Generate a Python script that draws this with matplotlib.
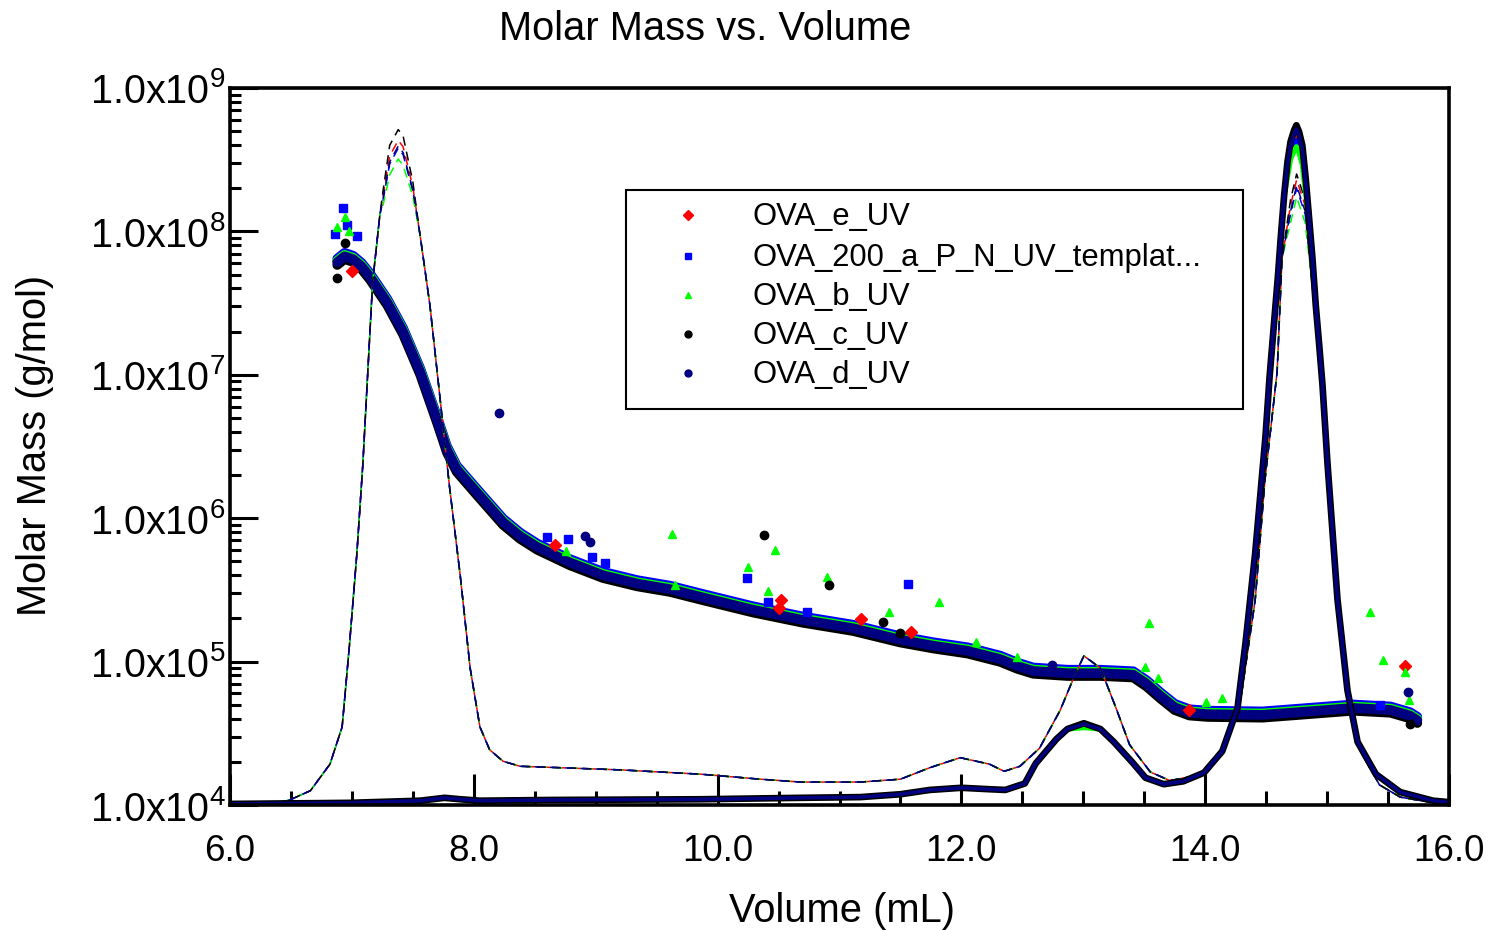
import numpy as np
import matplotlib.pyplot as plt
import matplotlib.patheffects as pe
from matplotlib.patches import Rectangle
from matplotlib.ticker import FixedLocator, FuncFormatter, LogLocator, NullFormatter

plt.rcParams['font.family'] = ['Liberation Sans', 'DejaVu Sans']

run_names = ['OVA_e_UV', 'OVA_200_a_P_N_UV_templat...', 'OVA_b_UV', 'OVA_c_UV', 'OVA_d_UV']
run_colors = ['#ff0000', '#0000ff', '#00ff00', '#000000', '#000080']
run_markers = ['D', 's', '^', 'o', 'o']

# dense molar mass band where all runs overlap (mL, g/mol)
band_volume = [6.88, 6.94, 7.01, 7.08, 7.15, 7.29, 7.42, 7.56, 7.70, 7.78, 7.86, 8.03,
               8.24, 8.38, 8.52, 8.79, 9.06, 9.34, 9.61, 9.88, 10.29, 10.70, 11.11,
               11.50, 11.77, 12.05, 12.32, 12.46, 12.59, 12.87, 13.14, 13.41, 13.52,
               13.63, 13.75, 13.87, 14.02, 14.47, 14.78, 15.21, 15.52, 15.68, 15.74]
band_mass = [6.1e7, 6.7e7, 6.4e7, 5.7e7, 4.8e7, 3.2e7, 2.0e7, 1.05e7, 4.8e6, 3.0e6, 2.2e6,
             1.5e6, 9.4e5, 7.5e5, 6.3e5, 4.9e5, 4.0e5, 3.5e5, 3.2e5, 2.8e5, 2.3e5, 1.95e5,
             1.71e5, 1.42e5, 1.29e5, 1.19e5, 1.04e5, 9.3e4, 8.6e4, 8.3e4, 8.3e4, 8.1e4,
             7.0e4, 5.8e4, 4.8e4, 4.4e4, 4.3e4, 4.25e4, 4.45e4, 4.75e4, 4.6e4, 4.2e4, 3.9e4]

# stray points of each run
e_volume = [7.00, 8.67, 10.52, 10.50, 11.18, 11.59, 13.87, 15.64]
e_mass = [5.3e7, 6.5e5, 2.7e5, 2.37e5, 1.98e5, 1.61e5, 4.6e4, 9.3e4]
a_volume = [6.93, 6.86, 6.96, 7.04, 8.60, 8.77, 8.97, 9.08, 10.24, 10.41, 10.73, 11.56, 15.43]
a_mass = [1.45e8, 9.6e7, 1.1e8, 9.3e7, 7.4e5, 7.2e5, 5.4e5, 4.9e5, 3.8e5, 2.6e5, 2.2e5, 3.5e5, 5.0e4]
b_volume = [6.88, 6.94, 6.98, 8.76, 9.63, 9.65, 10.25, 10.47, 10.41, 10.90, 11.41, 11.82, 12.12,
            12.46, 13.54, 13.51, 13.61, 14.01, 14.14, 15.35, 15.46, 15.64, 15.67]
b_mass = [1.07e8, 1.26e8, 1.0e8, 5.9e5, 7.8e5, 3.4e5, 4.6e5, 6.0e5, 3.1e5, 3.9e5, 2.2e5, 2.6e5,
          1.37e5, 1.08e5, 1.86e5, 9.2e4, 7.7e4, 5.2e4, 5.6e4, 2.2e5, 1.02e5, 8.5e4, 5.4e4]
c_volume = [6.88, 6.94, 10.38, 10.91, 11.36, 11.50, 15.68]
c_mass = [4.7e7, 8.3e7, 7.6e5, 3.4e5, 1.89e5, 1.58e5, 3.7e4]
d_volume = [8.21, 8.91, 8.95, 12.74, 15.66]
d_mass = [5.4e6, 7.5e5, 6.8e5, 9.5e4, 6.1e4]

# light scattering traces (relative signal, shared except the peak tops)
ls_vol_left = [6.0, 6.33, 6.49, 6.66, 6.82, 6.92, 6.98, 7.04, 7.09, 7.13, 7.17, 7.23]
ls_sig_left = [0.0, 0.001, 0.007, 0.020, 0.057, 0.109, 0.223, 0.349, 0.476, 0.603, 0.729, 0.824]
ls_vol_top1 = [7.255, 7.31, 7.38, 7.42, 7.50]
ls_vol_mid = [7.56, 7.64, 7.72, 7.80, 7.89, 7.97, 8.05, 8.13, 8.24, 8.38, 8.71, 9.20, 9.86,
              10.35, 10.68, 11.17, 11.50, 11.74, 11.99, 12.23, 12.35, 12.48, 12.64, 12.81,
              12.93, 13.005, 13.14, 13.26, 13.38, 13.55, 13.71, 13.96, 14.12, 14.29, 14.41,
              14.49, 14.59, 14.63]
ls_sig_mid = [0.794, 0.697, 0.572, 0.445, 0.318, 0.191, 0.109, 0.077, 0.061, 0.054, 0.052,
              0.049, 0.043, 0.036, 0.032, 0.032, 0.036, 0.052, 0.066, 0.057, 0.047, 0.054,
              0.079, 0.132, 0.181, 0.208, 0.191, 0.139, 0.084, 0.046, 0.034, 0.042, 0.070,
              0.146, 0.286, 0.453, 0.604, 0.762]
ls_vol_top2 = [14.70, 14.75, 14.82]
ls_vol_right = [14.88, 14.96, 15.02, 15.11, 15.19, 15.29, 15.43, 15.60, 15.84, 16.0]
ls_sig_right = [0.722, 0.565, 0.411, 0.244, 0.132, 0.070, 0.028, 0.011, 0.004, 0.003]
ls_top1 = {'e': [0.849, 0.905, 0.927, 0.918, 0.862], 'a': [0.843, 0.894, 0.916, 0.907, 0.856],
           'b': [0.836, 0.879, 0.901, 0.892, 0.849], 'c': [0.856, 0.920, 0.942, 0.933, 0.869],
           'd': [0.845, 0.897, 0.919, 0.910, 0.858]}
ls_top2 = {'e': [0.836, 0.872, 0.836], 'a': [0.824, 0.860, 0.824], 'b': [0.812, 0.848, 0.812],
           'c': [0.844, 0.880, 0.844], 'd': [0.828, 0.864, 0.828]}

# UV traces (relative signal)
uv_vol_a = [6.0, 6.98, 7.56, 7.76, 7.89, 8.05, 8.62, 9.86, 10.68, 11.17, 11.50, 11.74, 12.00,
            12.23, 12.36, 12.52, 12.61, 12.78, 12.87]
uv_sig_a = [0.0015, 0.003, 0.006, 0.010, 0.008, 0.006, 0.007, 0.008, 0.010, 0.011, 0.015,
            0.021, 0.024, 0.022, 0.021, 0.030, 0.058, 0.092, 0.106]
uv_vol_top1 = [13.005]
uv_vol_b = [13.14, 13.25, 13.40, 13.51, 13.66, 13.82, 13.99, 14.14, 14.265, 14.33, 14.41,
            14.495, 14.528, 14.569, 14.596, 14.62, 14.648]
uv_sig_b = [0.106, 0.088, 0.060, 0.038, 0.029, 0.033, 0.045, 0.075, 0.135, 0.225, 0.351,
            0.515, 0.597, 0.681, 0.736, 0.792, 0.851]
uv_vol_top2 = [14.675, 14.70, 14.729, 14.748, 14.77, 14.797, 14.825]
uv_vol_c = [14.853, 14.880, 14.907, 14.935, 14.962, 15.003, 15.085, 15.167, 15.25, 15.40,
            15.60, 15.87, 16.0]
uv_sig_c = [0.817, 0.762, 0.697, 0.642, 0.586, 0.477, 0.287, 0.160, 0.088, 0.043, 0.018,
            0.006, 0.004]
uv_top1 = {'e': [0.113], 'a': [0.112], 'b': [0.108], 'c': [0.114], 'd': [0.113]}
uv_top2 = {'e': [0.890, 0.917, 0.932, 0.939, 0.930, 0.911, 0.866],
           'a': [0.883, 0.909, 0.921, 0.927, 0.919, 0.902, 0.860],
           'b': [0.876, 0.901, 0.912, 0.918, 0.910, 0.893, 0.852],
           'c': [0.897, 0.925, 0.941, 0.948, 0.939, 0.920, 0.873],
           'd': [0.893, 0.921, 0.936, 0.943, 0.934, 0.915, 0.869]}

run_keys = ['e', 'a', 'b', 'c', 'd']
stray = {'e': (e_volume, e_mass), 'a': (a_volume, a_mass), 'b': (b_volume, b_mass),
         'c': (c_volume, c_mass), 'd': (d_volume, d_mass)}

fig = plt.figure(figsize=(14.99, 9.30), dpi=100)
ax = fig.add_axes([230 / 1499, 1 - 805 / 930, 1219 / 1499, 717 / 930])
chrom = ax.get_xaxis_transform()  # x in mL, y as fraction of the plot height

ls_volume = ls_vol_left + ls_vol_top1 + ls_vol_mid + ls_vol_top2 + ls_vol_right
uv_volume = uv_vol_a + uv_vol_top1 + uv_vol_b + uv_vol_top2 + uv_vol_c
dash_offsets = [0, 3, 6, 9, 1.5]
band_shift = [(0, 0.5), (0, 2.5), (0, 1), (0, -2), (0, 0)]

for i, k in enumerate(run_keys):
    col = run_colors[i]
    # molar mass band + stray points
    ax.plot(band_volume, band_mass, color=col, lw=7, solid_capstyle='round',
            solid_joinstyle='round', zorder=3 + i * 0.1,
            path_effects=[pe.Stroke(offset=band_shift[i])])
    v, m = stray[k]
    ax.plot(v, m, ls='none', marker=run_markers[i], color=col, mec=col,
            ms=6 if run_markers[i] != '^' else 5.5, zorder=4 + i * 0.1)

for i, k in enumerate(run_keys):
    col = run_colors[i]
    ls_signal = ls_sig_left + ls_top1[k] + ls_sig_mid + ls_top2[k] + ls_sig_right
    ax.plot(ls_volume, ls_signal, color=col, lw=1.1, transform=chrom, zorder=6,
            linestyle=(dash_offsets[i], (6, 4)))

uv_widths = [3.5, 3.5, 3.8, 4.8, 2.6]
for i, k in enumerate(run_keys):
    col = run_colors[i]
    uv_signal = uv_sig_a + uv_top1[k] + uv_sig_b + uv_top2[k] + uv_sig_c
    ax.plot(uv_volume, uv_signal, color=col, lw=uv_widths[i], transform=chrom,
            zorder=7 + i * 0.1, solid_joinstyle='round')

ax.set_yscale('log')
ax.set_xlim(6, 16)
ax.set_ylim(1e4, 1e9)

ax.xaxis.set_major_locator(FixedLocator([6, 8, 10, 12, 14, 16]))
ax.xaxis.set_minor_locator(FixedLocator(np.arange(6, 16.01, 0.5)))
ax.xaxis.set_major_formatter(FuncFormatter(lambda v, p: f'{v:.1f}'))
ax.yaxis.set_major_locator(LogLocator(base=10, numticks=10))
ax.yaxis.set_minor_locator(LogLocator(base=10, subs=np.arange(2, 10), numticks=20))
ax.yaxis.set_minor_formatter(NullFormatter())
ax.yaxis.set_major_formatter(FuncFormatter(
    lambda v, p: r'$\mathregular{1.0x10^{%d}}$' % round(np.log10(v))))

ax.tick_params(which='both', direction='in', top=False, right=False, width=2.2)
ax.tick_params(axis='x', which='major', length=22, labelsize=26.5, pad=21)
ax.tick_params(axis='x', which='minor', length=10)
ax.tick_params(axis='y', which='major', length=20, labelsize=28.5, pad=3)
ax.tick_params(axis='y', which='minor', length=8)
for s in ax.spines.values():
    s.set_linewidth(2.6)
    s.set_zorder(10)

fig.text(705 / 1499, 1 - 29 / 930, 'Molar Mass vs. Volume', fontsize=28.7, ha='center', va='center')
fig.text(842 / 1499, 1 - 911 / 930, 'Volume (mL)', fontsize=28.7, ha='center', va='center')
fig.text(35 / 1499, 1 - 445 / 930, 'Molar Mass (g/mol)', fontsize=28.7, ha='center', va='center',
         rotation=90)

# legend box
x0, x1 = (626 - 230) / 1219, (1243 - 230) / 1219
y0, y1 = (805 - 409) / 717, (805 - 190) / 717
ax.add_patch(Rectangle((x0, y0), x1 - x0, y1 - y0, transform=ax.transAxes, fill=True,
                       facecolor='white', edgecolor='black', lw=1.5, zorder=20))
row_y = [215, 256, 295, 334, 373]
for i, name in enumerate(run_names):
    yy = (805 - row_y[i]) / 717
    ax.plot([(688 - 230) / 1219], [yy], transform=ax.transAxes, marker=run_markers[i],
            color=run_colors[i], ms=5, ls='none', zorder=21, clip_on=False)
    ax.text((752 - 230) / 1219, yy - 0.003, name, transform=ax.transAxes, fontsize=22.3,
            va='center', ha='left', zorder=21)

fig.savefig('out.png', dpi=100)
